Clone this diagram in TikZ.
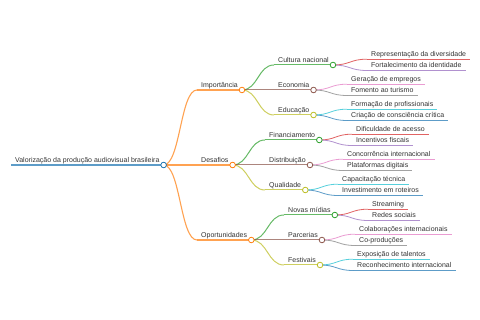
\documentclass[tikz,border=0pt]{standalone}
\usepackage{fontspec}
\setmainfont{Liberation Sans}
\usetikzlibrary{calc}
\definecolor{cblue}{HTML}{1F77B4}
\definecolor{corange}{HTML}{FF7F0E}
\definecolor{cgreen}{HTML}{2CA02C}
\definecolor{cred}{HTML}{D62728}
\definecolor{cpurple}{HTML}{9467BD}
\definecolor{cbrown}{HTML}{8C564B}
\definecolor{cpink}{HTML}{E377C2}
\definecolor{cgray}{HTML}{7F7F7F}
\definecolor{colive}{HTML}{BCBD22}
\definecolor{ccyan}{HTML}{17BECF}
\definecolor{ctext}{HTML}{333333}
\tikzset{
  mmtext/.style={inner sep=0pt, text=ctext, font=\fontsize{7}{8.4}\selectfont},
  mmline/.style={draw opacity=0.72},
}
\newcommand{\mmnode}[6]{%
  \node[mmtext, anchor=base west] (#1) at (#2,#3-2.8) {#4};
  \coordinate (#1-a) at ([xshift=-4pt,yshift=-2.8pt]#1.base west);
  \coordinate (#1-b) at ([xshift=4pt,yshift=-2.8pt]#1.base east);
  \draw[mmline, #5, line width=#6] (#1-a) -- (#1-b);
}
\newcommand{\mmlink}[4]{%
  \draw[mmline, #3, line width=#4] let \p1=(#1-b), \p2=(#2-a) in
    (\p1) .. controls ({(\x1+\x2)/2},\y1) and ({(\x1+\x2)/2},\y2) .. (\p2);
}
\newcommand{\mmdot}[2]{%
  \draw[#2, line width=0.8pt, fill=white] (#1-b) circle[radius=2.8pt];
}
\begin{document}
\begin{tikzpicture}[x=1pt,y=-1pt]
\useasboundingbox[fill=white] (0,0) rectangle (480,320);
% root
\mmnode{root}{15}{165}{Valorização da produção audiovisual brasileira}{cblue}{1.4pt}
% level 1
\mmnode{imp}{201}{90}{Importância}{corange}{1.1pt}
\mmnode{des}{201}{165}{Desafios}{corange}{1.1pt}
\mmnode{opo}{201}{240}{Oportunidades}{corange}{1.1pt}
% level 2
\mmnode{cul}{278}{65}{Cultura nacional}{cgreen}{1pt}
\mmnode{eco}{278}{90}{Economia}{cbrown}{1pt}
\mmnode{edu}{278}{115}{Educação}{colive}{1pt}
\mmnode{fin}{269}{140}{Financiamento}{cgreen}{1pt}
\mmnode{dis}{269}{165}{Distribuição}{cbrown}{1pt}
\mmnode{qua}{269}{190}{Qualidade}{colive}{1pt}
\mmnode{nov}{288}{215}{Novas mídias}{cgreen}{1pt}
\mmnode{par}{288}{240}{Parcerias}{cbrown}{1pt}
\mmnode{fes}{288}{265}{Festivais}{colive}{1pt}
% level 3
\mmnode{rep}{371}{59.2}{Representação da diversidade}{cred}{0.8pt}
\mmnode{for}{371}{70.5}{Fortalecimento da identidade}{cpurple}{0.8pt}
\mmnode{ger}{351}{84.2}{Geração de empregos}{cpink}{0.8pt}
\mmnode{fom}{351}{95.5}{Fomento ao turismo}{cgray}{0.8pt}
\mmnode{fpr}{351}{109.2}{Formação de profissionais}{ccyan}{0.8pt}
\mmnode{cri}{351}{120.5}{Criação de consciência crítica}{cblue}{0.8pt}
\mmnode{dif}{356}{134.2}{Dificuldade de acesso}{cred}{0.8pt}
\mmnode{inc}{356}{145.5}{Incentivos fiscais}{cpurple}{0.8pt}
\mmnode{con}{347}{159.2}{Concorrência internacional}{cpink}{0.8pt}
\mmnode{pla}{347}{170.5}{Plataformas digitais}{cgray}{0.8pt}
\mmnode{cap}{342}{184.2}{Capacitação técnica}{ccyan}{0.8pt}
\mmnode{inv}{342}{195.5}{Investimento em roteiros}{cblue}{0.8pt}
\mmnode{str}{372}{209.2}{Streaming}{cred}{0.8pt}
\mmnode{red}{372}{220.5}{Redes sociais}{cpurple}{0.8pt}
\mmnode{col}{359}{234.2}{Colaborações internacionais}{cpink}{0.8pt}
\mmnode{cop}{359}{245.5}{Co-produções}{cgray}{0.8pt}
\mmnode{exp}{357}{259.2}{Exposição de talentos}{ccyan}{0.8pt}
\mmnode{rec}{357}{270.5}{Reconhecimento internacional}{cblue}{0.8pt}
% links
\mmlink{root}{imp}{corange}{1.1pt}
\mmlink{root}{des}{corange}{1.1pt}
\mmlink{root}{opo}{corange}{1.1pt}
\mmlink{imp}{cul}{cgreen}{1pt}
\mmlink{imp}{eco}{cbrown}{1pt}
\mmlink{imp}{edu}{colive}{1pt}
\mmlink{des}{fin}{cgreen}{1pt}
\mmlink{des}{dis}{cbrown}{1pt}
\mmlink{des}{qua}{colive}{1pt}
\mmlink{opo}{nov}{cgreen}{1pt}
\mmlink{opo}{par}{cbrown}{1pt}
\mmlink{opo}{fes}{colive}{1pt}
\mmlink{cul}{rep}{cred}{0.8pt}
\mmlink{cul}{for}{cpurple}{0.8pt}
\mmlink{eco}{ger}{cpink}{0.8pt}
\mmlink{eco}{fom}{cgray}{0.8pt}
\mmlink{edu}{fpr}{ccyan}{0.8pt}
\mmlink{edu}{cri}{cblue}{0.8pt}
\mmlink{fin}{dif}{cred}{0.8pt}
\mmlink{fin}{inc}{cpurple}{0.8pt}
\mmlink{dis}{con}{cpink}{0.8pt}
\mmlink{dis}{pla}{cgray}{0.8pt}
\mmlink{qua}{cap}{ccyan}{0.8pt}
\mmlink{qua}{inv}{cblue}{0.8pt}
\mmlink{nov}{str}{cred}{0.8pt}
\mmlink{nov}{red}{cpurple}{0.8pt}
\mmlink{par}{col}{cpink}{0.8pt}
\mmlink{par}{cop}{cgray}{0.8pt}
\mmlink{fes}{exp}{ccyan}{0.8pt}
\mmlink{fes}{rec}{cblue}{0.8pt}
% circles
\mmdot{root}{cblue}
\mmdot{imp}{corange}
\mmdot{des}{corange}
\mmdot{opo}{corange}
\mmdot{cul}{cgreen}
\mmdot{eco}{cbrown}
\mmdot{edu}{colive}
\mmdot{fin}{cgreen}
\mmdot{dis}{cbrown}
\mmdot{qua}{colive}
\mmdot{nov}{cgreen}
\mmdot{par}{cbrown}
\mmdot{fes}{colive}
\end{tikzpicture}
\end{document}
